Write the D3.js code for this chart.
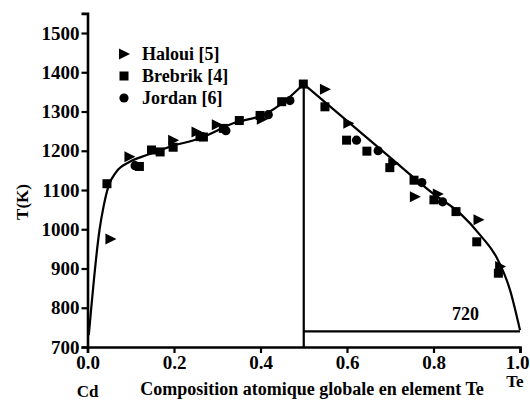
<!DOCTYPE html>
<html lang="en">
<head>
    <meta charset="UTF-8">
    <title>Diagramme Cd-Te</title>
    <script src="https://d3js.org/d3.v7.min.js"></script>
    <style>
        body { margin: 0; background: #fff; }
        svg text { font-family: "Liberation Serif", Tinos, "Noto Serif", FreeSerif, "Nimbus Roman", "DejaVu Serif", serif; fill: #000; font-weight: bold; }
    </style>
</head>
<body>
<svg id="chart" width="530" height="404"></svg>
<script>
    // liquidus (x = fraction Te, T in K)
    const liquidusLeft = [
        [0.003, 730], [0.028, 1000], [0.037, 1057], [0.048, 1108], [0.067, 1147],
        [0.098, 1172], [0.137, 1189], [0.19, 1210], [0.26, 1232], [0.337, 1270],
        [0.414, 1295], [0.449, 1320], [0.5, 1370]
    ];
    const liquidusRight = [
        [0.5, 1370], [0.707, 1176], [0.77, 1117], [0.8, 1090], [0.861, 1041],
        [0.908, 985], [0.946, 928], [0.977, 845], [1.0, 743]
    ];
    const peakX = 0.5, peakT = 1370;
    const eutecticT = 740;          // drawn level of the eutectic line
    const eutecticLabel = "720";

    const haloui = [
        [0.053, 975], [0.097, 1185], [0.198, 1227], [0.252, 1248], [0.299, 1266],
        [0.403, 1280], [0.549, 1357], [0.603, 1270], [0.707, 1168], [0.757, 1083],
        [0.81, 1090], [0.904, 1024], [0.954, 905]
    ];
    const brebrik = [
        [0.045, 1116], [0.12, 1160], [0.148, 1202], [0.168, 1197], [0.198, 1209],
        [0.26, 1236], [0.268, 1235], [0.314, 1257], [0.351, 1277], [0.399, 1290],
        [0.449, 1325], [0.499, 1370], [0.549, 1312], [0.599, 1227], [0.646, 1199],
        [0.699, 1157], [0.755, 1125], [0.801, 1075], [0.852, 1045], [0.90, 968],
        [0.95, 888]
    ];
    const jordan = [
        [0.11, 1162], [0.32, 1251], [0.418, 1292], [0.468, 1328], [0.622, 1227],
        [0.672, 1200], [0.773, 1119], [0.821, 1070]
    ];

    const xTicks = [0, 0.2, 0.4, 0.6, 0.8, 1.0];
    const yTicks = [700, 800, 900, 1000, 1100, 1200, 1300, 1400, 1500];
    const legendNames = ["Haloui [5]", "Brebrik [4]", "Jordan [6]"];

    const svg = d3.select("#chart");

    const x = d3.scaleLinear().domain([0, 1]).range([87.5, 520]);
    const y = d3.scaleLinear().domain([700, 1550]).range([347, 13.4]);

    // axes
    const xAxis = svg.append("g")
        .attr("transform", "translate(0," + y(700) + ")")
        .call(d3.axisBottom(x).tickValues(xTicks).tickFormat(d3.format(".1f"))
            .tickSizeOuter(0).tickSize(6).tickPadding(3));
    const yAxis = svg.append("g")
        .attr("transform", "translate(" + x(0) + ",0)")
        .call(d3.axisLeft(y).tickValues(yTicks).tickFormat(d3.format("d"))
            .tickSizeOuter(0).tickSize(6).tickPadding(2));

    [xAxis, yAxis].forEach(g => {
        g.attr("font-family", null);
        g.select(".domain").attr("stroke-width", 2.6);
        g.selectAll(".tick line").attr("stroke-width", 2.2);
        g.selectAll(".tick text")
            .style("font-size", "19px")
            .attr("fill", "#000");
    });
    // keep the last x label inside the page
    xAxis.selectAll(".tick text").filter(d => d === 1).attr("dx", -3);

    // liquidus curves
    const line = d3.line().x(d => x(d[0])).y(d => y(d[1])).curve(d3.curveMonotoneX);
    [liquidusLeft, liquidusRight].forEach(pts => {
        svg.append("path").datum(pts)
            .attr("fill", "none").attr("stroke", "#000").attr("stroke-width", 2.2)
            .attr("d", line);
    });

    // compound line and eutectic line
    svg.append("line")
        .attr("x1", x(peakX)).attr("x2", x(peakX))
        .attr("y1", y(peakT)).attr("y2", y(700))
        .attr("stroke", "#000").attr("stroke-width", 2.2);
    svg.append("line")
        .attr("x1", x(peakX)).attr("x2", x(1))
        .attr("y1", y(eutecticT)).attr("y2", y(eutecticT))
        .attr("stroke", "#000").attr("stroke-width", 2.2);
    svg.append("text")
        .attr("x", x(0.874)).attr("y", y(eutecticT) - 11)
        .attr("text-anchor", "middle")
        .style("font-size", "18px")
        .text(eutecticLabel);

    // markers
    const tri = s => "M" + (-s * 0.5) + "," + (-s * 0.55) + "L" + (s * 0.6) + ",0L" + (-s * 0.5) + "," + (s * 0.55) + "Z";
    function drawTri(data) {
        svg.append("g").selectAll("path").data(data).join("path")
            .attr("transform", d => "translate(" + x(d[0]) + "," + y(d[1]) + ")")
            .attr("d", tri(10)).attr("fill", "#000");
    }
    function drawSq(data) {
        svg.append("g").selectAll("rect").data(data).join("rect")
            .attr("x", d => x(d[0]) - 4.5).attr("y", d => y(d[1]) - 4.5)
            .attr("width", 9).attr("height", 9).attr("fill", "#000");
    }
    function drawCirc(data) {
        svg.append("g").selectAll("circle").data(data).join("circle")
            .attr("cx", d => x(d[0])).attr("cy", d => y(d[1]))
            .attr("r", 4.6).attr("fill", "#000");
    }
    drawTri(haloui);
    drawSq(brebrik);
    drawCirc(jordan);

    // legend
    const lg = svg.append("g");
    const lx = 124, ly0 = 54, ldy = 22;
    lg.append("path").attr("transform", "translate(" + lx + "," + ly0 + ")").attr("d", tri(10)).attr("fill", "#000");
    lg.append("rect").attr("x", lx - 4.5).attr("y", ly0 + ldy - 4.5).attr("width", 9).attr("height", 9).attr("fill", "#000");
    lg.append("circle").attr("cx", lx).attr("cy", ly0 + 2 * ldy).attr("r", 4.6).attr("fill", "#000");
    legendNames.forEach((n, i) => {
        lg.append("text").attr("x", lx + 18).attr("y", ly0 + i * ldy + 6)
            .style("font-size", "18px").text(n);
    });

    // axis titles
    svg.append("text").attr("x", x(0)).attr("y", 397).attr("text-anchor", "middle")
        .style("font-size", "17px").text("Cd");
    svg.append("text").attr("x", 312).attr("y", 395).attr("text-anchor", "middle")
        .style("font-size", "18px").text("Composition atomique globale en element Te");
    svg.append("text").attr("x", 515).attr("y", 387).attr("text-anchor", "middle")
        .style("font-size", "17px").text("Te");
    svg.append("text").attr("transform", "translate(28,202) rotate(-90)").attr("text-anchor", "middle")
        .style("font-size", "17px").text("T(K)");
</script>
</body>
</html>
